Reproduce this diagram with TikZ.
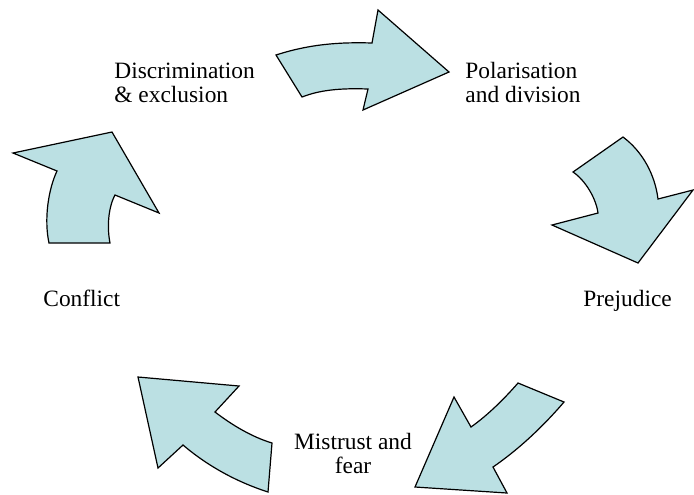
\documentclass[tikz,border=0pt]{standalone}
\usepackage{fontspec}
\setmainfont{Liberation Serif}
\definecolor{cyclefill}{RGB}{187,224,227}
\begin{document}
\begin{tikzpicture}[x=0.5pt,y=-0.5pt,
  turn/.style={draw=black,fill=cyclefill,line width=0.6pt,line join=miter},
  stage/.style={inner sep=0pt,font=\fontsize{11.7}{12}\selectfont}]
\useasboundingbox (0,0) rectangle (694,494);

% curved arrows round the cycle
\path[turn] (276,55) .. controls (310,44) and (340,42) .. (372,43) -- (378,10) -- (449,72)
  -- (363,110) -- (368,89) .. controls (340,88) and (320,90) .. (302,97) -- cycle;
\path[turn] (623,137) -- (573,172) .. controls (585,180) and (596,198) .. (598,213) -- (552,225)
  -- (638,263) -- (693,190) -- (658,199) .. controls (655,175) and (643,152) .. (623,137) -- cycle;
\path[turn] (518,383) -- (564,402) .. controls (540,430) and (515,452) .. (493,467) -- (507,493)
  -- (415,487) -- (454,397) -- (471,427) .. controls (488,415) and (505,398) .. (518,383) -- cycle;
\path[turn] (138,377) -- (239,386) -- (215,412) .. controls (232,425) and (252,437) .. (272,443)
  -- (268,492) .. controls (240,483) and (210,468) .. (183,445) -- (158,468) -- cycle;
\path[turn] (49,243) -- (110,243) .. controls (107,228) and (108,208) .. (115,195) -- (159,213)
  -- (112,132) -- (13,153) -- (57,171) .. controls (48,190) and (44,220) .. (49,243) -- cycle;

% stages (base anchor sits on the last line)
\node[stage,anchor=base west,align=left] (discr) at (114,102) {Discrimination\\\& exclusion};
\node[stage,anchor=base west,align=left] (polar) at (465,102) {Polarisation\\and division};
\node[stage,anchor=base west] (prej) at (583,306) {Prejudice};
\node[stage,anchor=base west] (confl) at (43,306) {Conflict};
\node[stage,anchor=base,align=center] (mistr) at (353,473) {Mistrust and\\fear};
\end{tikzpicture}
\end{document}
